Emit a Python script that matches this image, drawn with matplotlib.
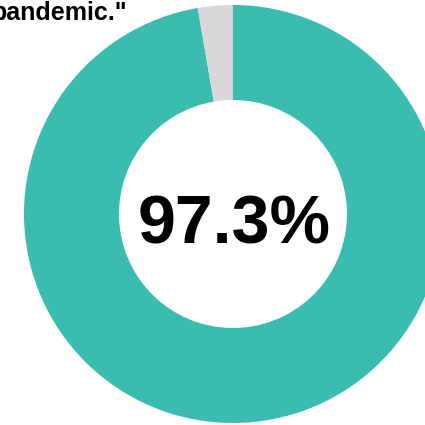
"""Donut chart showing a single share (97.3%)."""

import matplotlib.pyplot as plt

plt.rcParams["font.family"] = ["Liberation Sans", "DejaVu Sans"]

# Data
labels = ["Yes", "No"]
shares = [97.3, 2.7]
colors = ["#3bbcb0", "#d8d8da"]
headline = "97.3%"
quote_tail = "pandemic.\""

W = H = 425

fig = plt.figure(figsize=(W / 100, H / 100), dpi=100)
ax = fig.add_axes([0, 0, 1, 1])

ax.pie(
    shares,
    colors=colors,
    startangle=90,
    counterclock=False,
    center=(233, H - 214),
    radius=209,
    wedgeprops=dict(width=95, linewidth=0),
)
ax.set_xlim(0, W)
ax.set_ylim(0, H)
ax.set_aspect("equal")
ax.axis("off")

ax.text(234, H - 243, headline, ha="center", va="baseline",
        fontsize=49, fontweight="bold", color="black")
# quote runs in from the left edge, only its tail is visible
ax.text(127, H - 20, quote_tail, ha="right", va="baseline",
        fontsize=18, fontweight="bold", color="black")

fig.savefig("out.png", dpi=100)
plt.close(fig)
